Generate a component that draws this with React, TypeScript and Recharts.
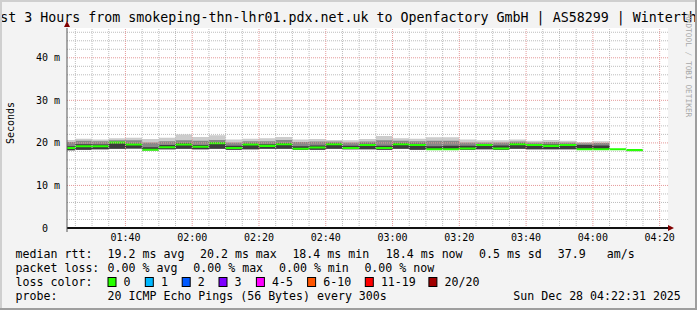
import { ComposedChart, Area, XAxis, YAxis, CartesianGrid, ReferenceLine } from "recharts";

// 5 minute bins (start time), median rtt in ms
const binTimes = [
  "01:20", "01:25", "01:30", "01:35", "01:40", "01:45", "01:50", "01:55",
  "02:00", "02:05", "02:10", "02:15", "02:20", "02:25", "02:30", "02:35",
  "02:40", "02:45", "02:50", "02:55", "03:00", "03:05", "03:10", "03:15",
  "03:20", "03:25", "03:30", "03:35", "03:40", "03:45", "03:50", "03:55",
  "04:00", "04:05", "04:10",
];
const median = [
  18.8, 19.2, 19.2, 20.1, 19.6, 18.4, 19.0, 19.6, 19.1, 19.9, 18.8, 19.6,
  19.3, 19.7, 18.6, 18.9, 19.7, 18.8, 19.5, 18.8, 19.7, 19.5, 18.5, 18.5,
  18.7, 19.5, 18.7, 19.7, 19.5, 19.3, 19.5, 18.5, 18.5, 18.5, 18.3,
];
// smoke (ping spread) only for the first 33 bins
const smokeMin = [
  18.3, 18.4, 18.5, 18.6, 18.7, 18.3, 18.5, 18.6, 18.5, 18.6, 18.4, 18.5,
  18.6, 18.6, 18.4, 18.4, 18.6, 18.5, 18.5, 18.4, 18.6, 18.4, 18.4, 18.4,
  18.4, 18.5, 18.4, 18.6, 18.5, 18.5, 18.5, 18.4, 18.4,
];
const smokeDark = [
  19.2, 19.7, 19.6, 19.9, 19.8, 19.0, 19.5, 19.9, 19.5, 20.1, 19.3, 19.8,
  19.7, 20.0, 19.2, 19.4, 19.9, 19.3, 19.8, 19.3, 19.9, 19.8, 19.2, 19.3,
  19.3, 19.7, 19.4, 19.9, 19.7, 19.6, 19.7, 19.5, 19.4,
];
const smokeMid = [
  20.2, 20.5, 20.4, 20.6, 20.6, 20.1, 20.4, 20.6, 20.5, 20.7, 20.1, 20.4,
  20.4, 20.7, 20.2, 20.3, 20.3, 20.1, 20.3, 20.6, 20.5, 20.4, 20.5, 20.5,
  20.1, 20.1, 20.1, 20.3, 20.1, 20.2, 20.1, 19.9, 20.0,
];
const smokeMax = [
  20.7, 21.0, 20.8, 21.1, 21.2, 20.9, 21.2, 22.0, 21.4, 21.8, 20.8, 21.0,
  21.1, 21.4, 20.8, 20.9, 20.7, 20.6, 20.9, 21.6, 21.1, 21.0, 21.3, 21.3,
  20.8, 20.6, 20.6, 20.8, 20.5, 20.7, 20.5, 20.2, 20.4,
];

const xTickLabels = ["01:40", "02:00", "02:20", "02:40", "03:00", "03:20", "03:40", "04:00", "04:20"];
const yTicks = [0, 10, 20, 30, 40];

const title = "Last 3 Hours from smokeping-thn-lhr01.pdx.net.uk to Openfactory GmbH | AS58299 | Winterthur";
const rttStats = ["19.2 ms avg", "20.2 ms max", "18.4 ms min", "18.4 ms now", "0.5 ms sd", "37.9", "am/s"];
const lossStats = ["0.00 % avg", "0.00 % max", "0.00 % min", "0.00 % now"];
const lossLabels = ["0", "1", "2", "3", "4-5", "6-10", "11-19", "20/20"];
const lossColors = ["#26ff00", "#00b8ff", "#0059ff", "#7e00ff", "#ff00ff", "#ff5500", "#ff0000", "#a10000"];
const probeText = "20 ICMP Echo Pings (56 Bytes) every 300s";
const stamp = "Sun Dec 28 04:22:31 2025";

const toMin = (s: string) => {
  const [h, m] = s.split(":").map(Number);
  return h * 60 + m;
};
const fmt = (v: number) =>
  `${String(Math.floor(v / 60)).padStart(2, "0")}:${String(v % 60).padStart(2, "0")}`;

const MED_HALF = 0.24;
const STEP = 5;

// build rows; extra terminal points close the last step of each series
const rows = binTimes.map((b, i) => {
  const hasSmoke = i < smokeMin.length;
  const last = smokeMin.length - 1;
  const si = hasSmoke ? i : i === smokeMin.length ? last : -1;
  return {
    t: toMin(b),
    med: [median[i] - MED_HALF, median[i] + MED_HALF],
    light: si >= 0 ? [smokeMin[si], smokeMax[si]] : null,
    mid: si >= 0 ? [smokeMin[si], smokeMid[si]] : null,
    dark: si >= 0 ? [smokeMin[si], smokeDark[si]] : null,
  };
});
const lastMed = median[median.length - 1];
rows.push({
  t: toMin(binTimes[binTimes.length - 1]) + STEP,
  med: [lastMed - MED_HALF, lastMed + MED_HALF],
  light: null,
  mid: null,
  dark: null,
});

const X0 = toMin("01:22") + 0.5;
const X1 = toMin("04:22") + 0.5;
const xTicks = xTickLabels.map(toMin);
const xMinor: number[] = [];
for (let t = toMin("01:25"); t <= X1; t += 5) if (t % 20 !== 0) xMinor.push(t);
const yMinor: number[] = [];
for (let v = 2; v < 47; v += 2) if (v % 10 !== 0) yMinor.push(v);

const MONO = "'DejaVu Sans Mono', monospace";
const legendX = [107.6, 200, 292.4, 385.8, 479, 557.8, 606.7];
const lossX = [107.6, 193.3, 279, 364.4];
const boxX = [108, 145.3, 182.2, 219, 256.4, 307.6, 365.3, 428.9];

function YTick(props: any) {
  const { x, y, payload } = props;
  const v = payload.value;
  return (
    <text x={v === 0 ? x - 12 : x} y={y} dy="0.35em" textAnchor="end"
      fontFamily={MONO} fontSize={10} fill="#000">
      {v === 0 ? "0" : `${v} m`}
    </text>
  );
}

export default function App() {
  return (
    <div style={{ position: "absolute", left: 0, top: 0, width: 697, height: 310, background: "#f3f3f3", overflow: "hidden" }}>
      <ComposedChart width={697} height={310} data={rows}
        margin={{ top: 28, right: 29, bottom: 62, left: 7 }}>
        <CartesianGrid fill="#ffffff" horizontal={false} vertical={false} />
        <XAxis type="number" dataKey="t" domain={[X0, X1]} allowDataOverflow ticks={xTicks}
          tickFormatter={fmt} height={20} tickLine={false} tickMargin={0}
          axisLine={{ stroke: "#111", strokeWidth: 2 }}
          tick={{ fontFamily: MONO, fontSize: 10, fill: "#000" }} />
        <YAxis type="number" domain={[0, 47]} allowDataOverflow ticks={yTicks} width={60}
          tickLine={false} tickMargin={1} axisLine={{ stroke: "#555" }} tick={<YTick />} />
        <Area dataKey="light" type="stepAfter" fill="#cccccc" fillOpacity={1} stroke="none" isAnimationActive={false} />
        <Area dataKey="mid" type="stepAfter" fill="#888888" fillOpacity={1} stroke="none" isAnimationActive={false} />
        <Area dataKey="dark" type="stepAfter" fill="#3c3c3c" fillOpacity={1} stroke="none" isAnimationActive={false} />
        <Area dataKey="med" type="stepAfter" fill="#26ff00" fillOpacity={1} stroke="none" isAnimationActive={false} />
        {xMinor.map((t) => (
          <ReferenceLine key={`xm${t}`} x={t} stroke="#bdbdbd" strokeDasharray="1 1" />
        ))}
        {yMinor.map((v) => (
          <ReferenceLine key={`ym${v}`} y={v} stroke="#bdbdbd" strokeDasharray="1 1" />
        ))}
        {xTicks.map((t) => (
          <ReferenceLine key={`xM${t}`} x={t} stroke="#e59a9a" strokeDasharray="1 1" />
        ))}
        {[10, 20, 30, 40].map((v) => (
          <ReferenceLine key={`yM${v}`} y={v} stroke="#e59a9a" strokeDasharray="1 1" />
        ))}
      </ComposedChart>

      <svg width={697} height={310} style={{ position: "absolute", left: 0, top: 0, pointerEvents: "none" }}>
        <text x={348.5} y={22} textAnchor="middle" fontFamily={MONO} fontSize={13.3} fill="#000">{title}</text>
        <text transform="translate(685.5,14) rotate(90)" fontFamily={MONO} fontSize={7.8} fill="#a8a8a8">RRDTOOL / TOBI OETIKER</text>
        <text transform="translate(14,123) rotate(-90)" textAnchor="middle" fontFamily={MONO} fontSize={10} fill="#000">Seconds</text>
        <line x1={67} y1={228} x2={67} y2={232} stroke="#555" />
        <polygon points="64,27 70,27 67,21" fill="#800000" />
        <polygon points="668,225 668,231 674,228" fill="#800000" />

        <g fontFamily={MONO} fontSize={11.6} fill="#000">
          <text x={15.6} y={258}>median rtt:</text>
          {rttStats.map((s, i) => <text key={s + i} x={legendX[i]} y={258}>{s}</text>)}
          <text x={15.6} y={272}>packet loss:</text>
          {lossStats.map((s, i) => <text key={s + i} x={lossX[i]} y={272}>{s}</text>)}
          <text x={15.6} y={286}>loss color:</text>
          {lossLabels.map((s, i) => (
            <g key={s}>
              <rect x={boxX[i]} y={277.5} width={8} height={9} fill={lossColors[i]} stroke="#000" strokeWidth={1} />
              <text x={boxX[i] + 15.6} y={286}>{s}</text>
            </g>
          ))}
          <text x={15.6} y={300}>probe:</text>
          <text x={107.6} y={300}>{probeText}</text>
          <text x={513.3} y={300}>{stamp}</text>
        </g>

        <rect x={0} y={0} width={697} height={2} fill="#cfcfcf" />
        <rect x={0} y={0} width={2} height={310} fill="#cfcfcf" />
        <rect x={695} y={0} width={2} height={310} fill="#9e9e9e" />
        <rect x={0} y={308} width={697} height={2} fill="#9e9e9e" />
      </svg>
    </div>
  );
}
